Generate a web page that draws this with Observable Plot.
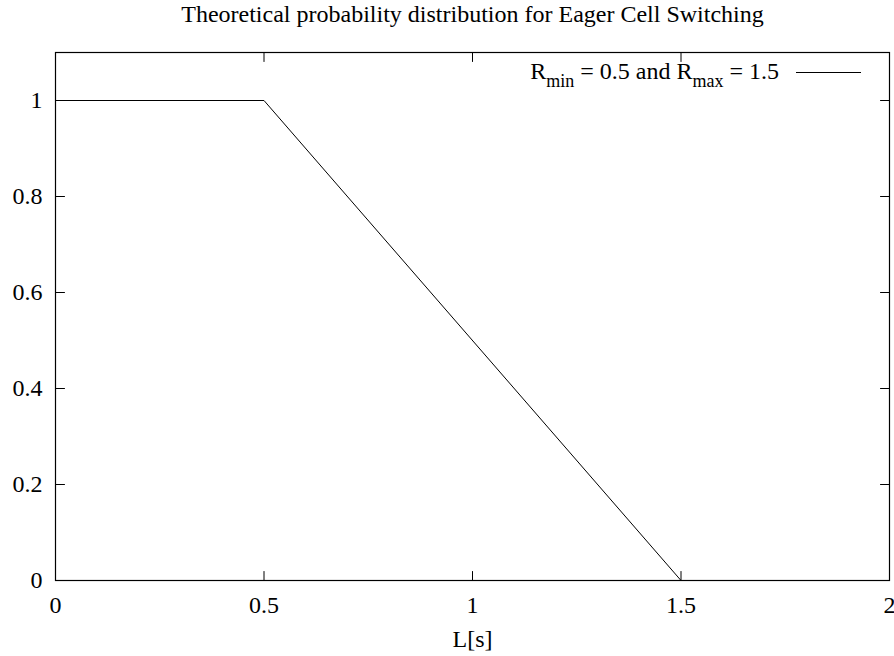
<!DOCTYPE html>
<html>
<head>
<meta charset="utf-8">
<script src="https://cdn.jsdelivr.net/npm/d3@7"></script>
<script src="https://cdn.jsdelivr.net/npm/@observablehq/plot@0.6"></script>
<style>
  html, body { margin: 0; padding: 0; background: #fff; }
  svg { display: block; }
</style>
</head>
<body>
<div id="chart"></div>
<script>
const xs = [0, 0.5, 1.5, 2];
const ps = [1, 1, 0, 0];
const xTicks = [0, 0.5, 1, 1.5, 2];
const yTicks = [0, 0.2, 0.4, 0.6, 0.8, 1];
const xTickLabels = ["0", "0.5", "1", "1.5", "2"];
const yTickLabels = ["0", "0.2", "0.4", "0.6", "0.8", "1"];
const titleText = "Theoretical probability distribution for Eager Cell Switching";
const xLabel = "L[s]";

const data = xs.map((x, i) => ({x, p: ps[i]}));
const font = "Liberation Serif, Times New Roman, serif";
const fs = 24;
const tickLen = 9;
const tickShape = {draw(ctx, l) { ctx.moveTo(0, 0); ctx.lineTo(0, -l); }};

const chart = Plot.plot({
  width: 894,
  height: 656,
  marginLeft: 55,
  marginRight: 5,
  marginTop: 52,
  marginBottom: 76,
  style: {fontFamily: font, fontSize: fs + "px", color: "#000", background: "#fff"},
  x: {domain: [0, 2]},
  y: {domain: [0, 1.1]},
  marks: [
    Plot.axisX(xTicks, {tickSize: 0, tickPadding: 15, label: null, fontSize: fs,
      tickFormat: (d, i) => xTickLabels[i]}),
    Plot.axisY(yTicks, {tickSize: 0, tickPadding: 13, label: null, fontSize: fs,
      tickFormat: (d, i) => yTickLabels[i]}),
    // inward ticks on all four sides (gnuplot mirror ticks)
    Plot.vector(xTicks, {x: d => d, y: 0, length: tickLen, rotate: 0, anchor: "start", shape: tickShape, stroke: "#000", strokeWidth: 1}),
    Plot.vector(xTicks, {x: d => d, y: 1.1, length: tickLen, rotate: 180, anchor: "start", shape: tickShape, stroke: "#000", strokeWidth: 1}),
    Plot.vector(yTicks, {x: 0, y: d => d, length: tickLen, rotate: 90, anchor: "start", shape: tickShape, stroke: "#000", strokeWidth: 1}),
    Plot.vector(yTicks, {x: 2, y: d => d, length: tickLen, rotate: -90, anchor: "start", shape: tickShape, stroke: "#000", strokeWidth: 1}),
    Plot.line(data, {x: "x", y: "p", stroke: "#000", strokeWidth: 1}),
    Plot.frame({stroke: "#000", strokeWidth: 1.2}),
    Plot.text([titleText], {frameAnchor: "top", dy: -38, lineAnchor: "middle", fontSize: fs, fill: "#000"}),
    Plot.text([xLabel], {frameAnchor: "bottom", dy: 59, lineAnchor: "middle", fontSize: fs, fill: "#000"})
  ]
});

document.getElementById("chart").appendChild(chart);

// Legend (gnuplot-style key, top-right)
const svg = d3.select(chart);
const key = svg.append("g").attr("font-family", font).attr("fill", "#000");
const t = key.append("text").attr("x", 779).attr("y", 79).attr("text-anchor", "end").attr("font-size", fs);
t.append("tspan").text("R");
t.append("tspan").attr("font-size", 18).attr("dy", 8).text("min");
t.append("tspan").attr("dy", -8).text(" = 0.5 and R");
t.append("tspan").attr("font-size", 18).attr("dy", 8).text("max");
t.append("tspan").attr("dy", -8).text(" = 1.5");
key.append("line").attr("x1", 796).attr("x2", 861).attr("y1", 72.5).attr("y2", 72.5)
  .attr("stroke", "#000").attr("stroke-width", 1);
</script>
</body>
</html>
